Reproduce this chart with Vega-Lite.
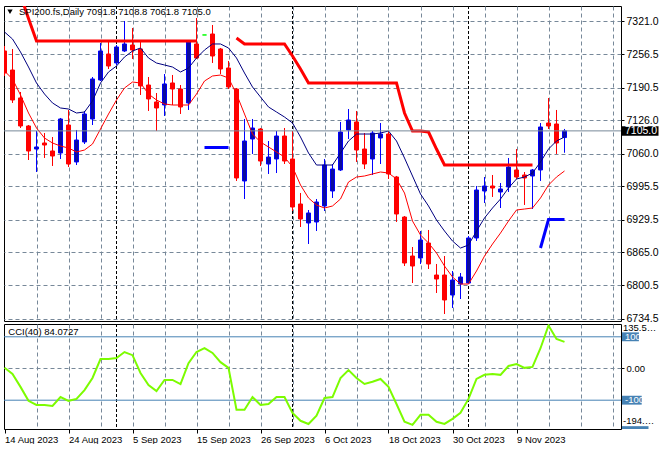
{
  "$schema": "https://vega.github.io/schema/vega-lite/v6.json",
  "padding": {"left": 3, "top": 5, "right": 0, "bottom": 0},
  "background": "white",
  "config": {"font": "Liberation Sans", "view": {"stroke": "black", "strokeWidth": 1}, "axis": {"labelFont": "Liberation Sans", "labelOverlap": false, "labelFlush": false, "labelBound": false}},
  "bounds": "flush",
  "spacing": 3,
  "resolve": {"scale": {"x": "independent", "y": "independent"}},
  "datasets": {
    "bars": [
      {"i":0,"d":"2023-08-14","o":7262.8,"h":7272.6,"l":7213.4,"c":7219.3,"u":7300.3,"lo":7223.2,"cci":2.5},
      {"i":1,"d":"2023-08-15","o":7225.2,"h":7266.7,"l":7160.1,"c":7166.0,"u":7286.4,"lo":7207.4,"cci":-17},
      {"i":2,"d":"2023-08-16","o":7170.0,"h":7181.8,"l":7110.7,"c":7114.7,"u":7260.8,"lo":7175.9,"cci":-58},
      {"i":3,"d":"2023-08-17","o":7114.7,"h":7116.6,"l":7047.5,"c":7065.3,"u":7231.1,"lo":7140.3,"cci":-102},
      {"i":4,"d":"2023-08-18","o":7069.2,"h":7104.8,"l":7023.8,"c":7073.2,"u":7199.5,"lo":7110.7,"cci":-115},
      {"i":5,"d":"2023-08-21","o":7081.1,"h":7100.8,"l":7051.5,"c":7077.1,"u":7177.8,"lo":7090.9,"cci":-115},
      {"i":6,"d":"2023-08-22","o":7065.3,"h":7092.9,"l":7035.7,"c":7055.4,"u":7160.1,"lo":7081.1,"cci":-118},
      {"i":7,"d":"2023-08-23","o":7061.3,"h":7130.5,"l":7049.5,"c":7128.5,"u":7150.2,"lo":7075.1,"cci":-90},
      {"i":8,"d":"2023-08-24","o":7116.6,"h":7146.3,"l":7033.7,"c":7039.6,"u":7148.2,"lo":7071.2,"cci":-102},
      {"i":9,"d":"2023-08-25","o":7043.6,"h":7106.8,"l":7037.6,"c":7087.0,"u":7140.3,"lo":7063.3,"cci":-96},
      {"i":10,"d":"2023-08-28","o":7083.1,"h":7144.3,"l":7079.1,"c":7138.4,"u":7142.3,"lo":7067.2,"cci":-68},
      {"i":11,"d":"2023-08-29","o":7128.5,"h":7211.4,"l":7116.6,"c":7207.5,"u":7164.0,"lo":7079.1,"cci":-30},
      {"i":12,"d":"2023-08-30","o":7205.5,"h":7278.6,"l":7203.5,"c":7262.8,"u":7199.5,"lo":7108.7,"cci":30},
      {"i":13,"d":"2023-08-31","o":7256.8,"h":7282.5,"l":7227.2,"c":7233.1,"u":7221.3,"lo":7138.3,"cci":30},
      {"i":14,"d":"2023-09-01","o":7239.1,"h":7274.6,"l":7235.1,"c":7270.7,"u":7233.1,"lo":7166.0,"cci":33},
      {"i":15,"d":"2023-09-04","o":7262.8,"h":7322.0,"l":7260.8,"c":7276.6,"u":7250.9,"lo":7189.7,"cci":52},
      {"i":16,"d":"2023-09-05","o":7274.6,"h":7308.2,"l":7247.0,"c":7264.7,"u":7262.7,"lo":7201.5,"cci":42},
      {"i":17,"d":"2023-09-06","o":7266.7,"h":7282.5,"l":7175.9,"c":7193.7,"u":7268.7,"lo":7199.5,"cci":-14},
      {"i":18,"d":"2023-09-07","o":7195.6,"h":7211.4,"l":7144.3,"c":7168.0,"u":7248.9,"lo":7177.8,"cci":-52},
      {"i":19,"d":"2023-09-08","o":7162.1,"h":7179.8,"l":7104.8,"c":7150.2,"u":7239.0,"lo":7166.0,"cci":-71},
      {"i":20,"d":"2023-09-11","o":7156.1,"h":7217.3,"l":7134.4,"c":7197.6,"u":7235.1,"lo":7158.1,"cci":-36},
      {"i":21,"d":"2023-09-12","o":7199.6,"h":7215.4,"l":7156.1,"c":7187.7,"u":7231.1,"lo":7156.1,"cci":-36},
      {"i":22,"d":"2023-09-13","o":7187.7,"h":7195.6,"l":7138.4,"c":7152.2,"u":7221.3,"lo":7156.1,"cci":-49},
      {"i":23,"d":"2023-09-14","o":7160.1,"h":7282.5,"l":7146.3,"c":7280.5,"u":7229.2,"lo":7156.1,"cci":17},
      {"i":24,"d":"2023-09-15","o":7276.6,"h":7327.9,"l":7247.0,"c":7248.9,"u":7248.9,"lo":7177.8,"cci":52},
      {"i":25,"d":"2023-09-17","o":7294.4,"h":7294.4,"l":7294.4,"c":7294.4,"u":7264.7,"lo":7203.5,"cci":64},
      {"i":26,"d":"2023-09-18","o":7296.3,"h":7314.1,"l":7239.1,"c":7252.9,"u":7276.6,"lo":7213.4,"cci":49},
      {"i":27,"d":"2023-09-19","o":7266.7,"h":7268.7,"l":7217.3,"c":7227.2,"u":7276.6,"lo":7215.3,"cci":20},
      {"i":28,"d":"2023-09-20","o":7229.2,"h":7243.0,"l":7187.7,"c":7191.7,"u":7268.7,"lo":7209.4,"cci":2},
      {"i":29,"d":"2023-09-21","o":7187.7,"h":7189.7,"l":7006.1,"c":7012.0,"u":7248.9,"lo":7177.8,"cci":-130},
      {"i":30,"d":"2023-09-22","o":7006.1,"h":7128.5,"l":6970.5,"c":7085.0,"u":7219.3,"lo":7138.3,"cci":-130},
      {"i":31,"d":"2023-09-25","o":7089.0,"h":7128.5,"l":7059.4,"c":7110.7,"u":7191.7,"lo":7098.8,"cci":-90},
      {"i":32,"d":"2023-09-26","o":7108.7,"h":7110.7,"l":7035.7,"c":7045.5,"u":7171.9,"lo":7083.0,"cci":-115},
      {"i":33,"d":"2023-09-27","o":7039.6,"h":7085.0,"l":7019.9,"c":7053.4,"u":7152.2,"lo":7073.2,"cci":-112},
      {"i":34,"d":"2023-09-28","o":7049.5,"h":7104.8,"l":7021.8,"c":7094.9,"u":7142.3,"lo":7063.3,"cci":-90},
      {"i":35,"d":"2023-09-29","o":7094.9,"h":7110.7,"l":7039.6,"c":7045.5,"u":7132.4,"lo":7053.4,"cci":-90},
      {"i":36,"d":"2023-10-02","o":7049.5,"h":7104.8,"l":6946.8,"c":6954.7,"u":7120.6,"lo":7033.7,"cci":-140},
      {"i":37,"d":"2023-10-03","o":6960.6,"h":6982.4,"l":6915.2,"c":6931.0,"u":7092.9,"lo":6998.1,"cci":-165},
      {"i":38,"d":"2023-10-04","o":6923.1,"h":6948.8,"l":6881.7,"c":6942.9,"u":7061.3,"lo":6972.5,"cci":-175},
      {"i":39,"d":"2023-10-05","o":6925.1,"h":6970.5,"l":6907.3,"c":6964.6,"u":7037.6,"lo":6958.6,"cci":-149},
      {"i":40,"d":"2023-10-06","o":6956.7,"h":7049.5,"l":6946.8,"c":7037.6,"u":7037.6,"lo":6952.7,"cci":-93},
      {"i":41,"d":"2023-10-09","o":6986.3,"h":7039.6,"l":6972.5,"c":7029.7,"u":7037.6,"lo":6956.7,"cci":-90},
      {"i":42,"d":"2023-10-10","o":7027.8,"h":7122.6,"l":7025.8,"c":7102.8,"u":7061.3,"lo":6970.5,"cci":-30},
      {"i":43,"d":"2023-10-11","o":7106.8,"h":7148.2,"l":7089.0,"c":7126.5,"u":7085.0,"lo":7004.1,"cci":-5},
      {"i":44,"d":"2023-10-12","o":7122.6,"h":7144.3,"l":7043.6,"c":7067.3,"u":7098.8,"lo":7013.9,"cci":-30},
      {"i":45,"d":"2023-10-13","o":7069.2,"h":7100.8,"l":7029.7,"c":7039.6,"u":7098.8,"lo":7015.9,"cci":-49},
      {"i":46,"d":"2023-10-16","o":7049.5,"h":7104.8,"l":7017.9,"c":7100.8,"u":7098.8,"lo":7019.9,"cci":-42},
      {"i":47,"d":"2023-10-17","o":7091.0,"h":7120.6,"l":7039.6,"c":7098.9,"u":7100.8,"lo":7023.8,"cci":-33},
      {"i":48,"d":"2023-10-18","o":7098.9,"h":7104.8,"l":7010.0,"c":7019.9,"u":7104.8,"lo":7021.8,"cci":-58},
      {"i":49,"d":"2023-10-19","o":7014.0,"h":7016.0,"l":6925.1,"c":6940.9,"u":7085.0,"lo":7010.0,"cci":-112},
      {"i":50,"d":"2023-10-20","o":6934.9,"h":6936.9,"l":6838.2,"c":6844.1,"u":7051.4,"lo":6982.3,"cci":-168},
      {"i":51,"d":"2023-10-23","o":6857.9,"h":6875.7,"l":6804.6,"c":6838.2,"u":7015.9,"lo":6927.0,"cci":-178},
      {"i":52,"d":"2023-10-24","o":6854.0,"h":6907.3,"l":6842.2,"c":6889.5,"u":6980.4,"lo":6899.4,"cci":-146},
      {"i":53,"d":"2023-10-25","o":6883.6,"h":6909.3,"l":6832.3,"c":6842.2,"u":6956.7,"lo":6883.6,"cci":-146},
      {"i":54,"d":"2023-10-26","o":6820.4,"h":6842.2,"l":6784.9,"c":6812.5,"u":6929.0,"lo":6863.9,"cci":-168},
      {"i":55,"d":"2023-10-27","o":6820.4,"h":6857.9,"l":6743.4,"c":6771.1,"u":6907.3,"lo":6838.2,"cci":-175},
      {"i":56,"d":"2023-10-30","o":6780.9,"h":6828.3,"l":6755.3,"c":6810.5,"u":6887.5,"lo":6816.5,"cci":-159},
      {"i":57,"d":"2023-10-31","o":6802.6,"h":6824.4,"l":6773.0,"c":6816.5,"u":6873.7,"lo":6802.6,"cci":-140},
      {"i":58,"d":"2023-11-01","o":6804.6,"h":6897.4,"l":6802.6,"c":6893.5,"u":6879.6,"lo":6802.6,"cci":-96},
      {"i":59,"d":"2023-11-02","o":6893.5,"h":6996.2,"l":6887.6,"c":6988.3,"u":6907.3,"lo":6828.3,"cci":-33},
      {"i":60,"d":"2023-11-03","o":6986.3,"h":7013.9,"l":6962.6,"c":6996.2,"u":6933.0,"lo":6857.9,"cci":-20},
      {"i":61,"d":"2023-11-06","o":6996.2,"h":7017.9,"l":6974.5,"c":6992.2,"u":6952.7,"lo":6881.6,"cci":-17},
      {"i":62,"d":"2023-11-07","o":6984.3,"h":7002.1,"l":6952.7,"c":6990.3,"u":6970.5,"lo":6903.3,"cci":-20},
      {"i":63,"d":"2023-11-08","o":6994.2,"h":7051.5,"l":6984.3,"c":7033.7,"u":6992.2,"lo":6927.0,"cci":8},
      {"i":64,"d":"2023-11-09","o":7027.8,"h":7069.2,"l":7010.0,"c":7013.9,"u":7010.0,"lo":6948.8,"cci":14},
      {"i":65,"d":"2023-11-10","o":7017.9,"h":7023.8,"l":6958.7,"c":7012.0,"u":7013.9,"lo":6950.7,"cci":2},
      {"i":66,"d":"2023-11-13","o":7015.9,"h":7029.7,"l":6950.8,"c":7027.8,"u":7021.8,"lo":6952.7,"cci":5},
      {"i":67,"d":"2023-11-14","o":7027.8,"h":7120.6,"l":7006.1,"c":7112.7,"u":7043.5,"lo":6972.5,"cci":64},
      {"i":68,"d":"2023-11-15","o":7120.6,"h":7169.9,"l":7108.7,"c":7114.7,"u":7069.2,"lo":6998.1,"cci":135.56},
      {"i":69,"d":"2023-11-16","o":7118.6,"h":7146.3,"l":7059.4,"c":7081.1,"u":7085.0,"lo":7013.9,"cci":93},
      {"i":70,"d":"2023-11-17","o":7091.8,"h":7108.8,"l":7061.8,"c":7105.0,"u":7092.9,"lo":7025.8,"cci":84.07}
    ],
    "months": [{"i":14,"m":"Sep"},{"i":36,"m":"Oct"},{"i":58,"m":"Nov"}],
    "res": [
      {"i":2,"v":7373.3,"seg":1},{"i":3,"v":7327.0,"seg":1},{"i":4,"v":7282.5,"seg":1},{"i":5,"v":7282.5,"seg":1},{"i":6,"v":7282.5,"seg":1},{"i":7,"v":7282.5,"seg":1},{"i":8,"v":7282.5,"seg":1},{"i":9,"v":7282.5,"seg":1},{"i":10,"v":7282.5,"seg":1},{"i":11,"v":7282.5,"seg":1},{"i":12,"v":7282.5,"seg":1},{"i":13,"v":7282.5,"seg":1},{"i":14,"v":7282.5,"seg":1},{"i":15,"v":7282.5,"seg":1},{"i":16,"v":7282.5,"seg":1},{"i":17,"v":7282.5,"seg":1},{"i":18,"v":7282.5,"seg":1},{"i":19,"v":7282.5,"seg":1},{"i":20,"v":7282.5,"seg":1},{"i":21,"v":7282.5,"seg":1},{"i":22,"v":7282.5,"seg":1},{"i":23,"v":7282.5,"seg":1},{"i":24,"v":7282.5,"seg":1},
      {"i":29,"v":7288.4,"seg":2},{"i":30,"v":7276.6,"seg":2},{"i":31,"v":7276.6,"seg":2},{"i":32,"v":7276.6,"seg":2},{"i":33,"v":7276.6,"seg":2},{"i":34,"v":7276.6,"seg":2},{"i":35,"v":7276.6,"seg":2},{"i":36,"v":7252.9,"seg":2},{"i":37,"v":7227.2,"seg":2},{"i":38,"v":7199.6,"seg":2},{"i":39,"v":7199.6,"seg":2},{"i":40,"v":7199.6,"seg":2},{"i":41,"v":7199.6,"seg":2},{"i":42,"v":7199.6,"seg":2},{"i":43,"v":7199.6,"seg":2},{"i":44,"v":7199.6,"seg":2},{"i":45,"v":7199.6,"seg":2},{"i":46,"v":7199.6,"seg":2},{"i":47,"v":7199.6,"seg":2},{"i":48,"v":7199.6,"seg":2},{"i":49,"v":7199.6,"seg":2},{"i":50,"v":7140.3,"seg":2},{"i":51,"v":7104.8,"seg":2},{"i":52,"v":7104.8,"seg":2},{"i":53,"v":7102.8,"seg":2},{"i":54,"v":7069.2,"seg":2},{"i":55,"v":7037.6,"seg":2},{"i":56,"v":7037.6,"seg":2},{"i":57,"v":7037.6,"seg":2},{"i":58,"v":7037.6,"seg":2},{"i":59,"v":7037.6,"seg":2},{"i":60,"v":7037.6,"seg":2},{"i":61,"v":7037.6,"seg":2},{"i":62,"v":7037.6,"seg":2},{"i":63,"v":7037.6,"seg":2},{"i":64,"v":7037.6,"seg":2},{"i":65,"v":7037.6,"seg":2},{"i":66,"v":7037.6,"seg":2}
    ],
    "sup": [
      {"i":25,"v":7072.2,"seg":1},{"i":26,"v":7072.2,"seg":1},{"i":27,"v":7072.2,"seg":1},{"i":28,"v":7072.2,"seg":1},
      {"i":67,"v":6873.7,"seg":2},{"i":68,"v":6930.0,"seg":2},{"i":69,"v":6930.0,"seg":2},{"i":70,"v":6930.0,"seg":2}
    ]
  },
  "vconcat": [
    {
      "width": 617,
      "height": 315,
      "resolve": {"axis": {"x": "independent", "y": "independent"}},
      "layer": [
        {
          "data": {"name": "bars"},
          "mark": {"type": "rule", "strokeWidth": 1, "clip": true, "opacity": 0},
          "encoding": {
            "x": {"field": "i", "type": "quantitative",
              "scale": {"domain": [-0.0625, 77.0625], "nice": false, "zero": false, "padding": 0},
              "axis": {"values": [0,4,8,12,16,20,24,28,32,36,40,44,48,52,56,60,64,68,72,76], "title": null, "labels": false, "ticks": false, "domain": false,
                "grid": true, "gridColor": "#778899", "gridDash": [4, 3], "gridWidth": 1,
                "gridOpacity": {"condition": {"test": "datum.value == 0", "value": 0}, "value": 1}}},
            "y": {"field": "l", "type": "quantitative",
              "scale": {"domain": [6729.6, 7351.6], "nice": false, "zero": false, "padding": 0},
              "axis": {"orient": "right", "values": [6734.5, 6800.5, 6865.0, 6929.5, 6995.5, 7060.0, 7126.0, 7190.5, 7256.5, 7321.0], "format": ".1f", "title": null, "domain": false,
                "grid": true, "gridColor": "#778899", "gridDash": [4, 3], "gridWidth": 1,
                "ticks": true, "tickSize": 3, "tickColor": "black", "labelFontSize": 10.5, "labelColor": "black", "labelPadding": 2,
                "labelOverlap": false, "labelFlush": false, "labelBound": false}},
            "y2": {"field": "h"}
          }
        },
        {
          "data": {"name": "months"},
          "mark": {"type": "rule", "color": "black", "strokeDash": [3, 2], "strokeWidth": 1},
          "encoding": {"x": {"field": "i", "type": "quantitative", "axis": null}}
        },
        {
          "data": {"name": "bars"},
          "mark": {"type": "rule", "strokeWidth": 1, "clip": true},
          "encoding": {
            "x": {"field": "i", "type": "quantitative", "axis": null},
            "y": {"field": "l", "type": "quantitative", "axis": null},
            "y2": {"field": "h"},
            "color": {"condition": [{"test": "datum.o == datum.c", "value": "#00ff00"}, {"test": "datum.c > datum.o", "value": "#0000ff"}], "value": "#ff0000"}
          }
        },
        {
          "data": {"name": "bars"},
          "mark": {"type": "bar", "size": 4, "strokeWidth": 1, "clip": true},
          "encoding": {
            "x": {"field": "i", "type": "quantitative", "axis": null},
            "y": {"field": "o", "type": "quantitative", "axis": null},
            "y2": {"field": "c"},
            "fill": {"condition": [{"test": "datum.o == datum.c", "value": "#00ff00"}, {"test": "datum.c > datum.o", "value": "#0c0c9c"}], "value": "#ff0000"},
            "stroke": {"condition": [{"test": "datum.o == datum.c", "value": "#00ff00"}, {"test": "datum.c > datum.o", "value": "#0000ff"}], "value": "#ff0000"}
          }
        },
        {
          "data": {"name": "bars"},
          "mark": {"type": "line", "color": "#000080", "strokeWidth": 1, "clip": true},
          "encoding": {"x": {"field": "i", "type": "quantitative", "axis": null}, "y": {"field": "u", "type": "quantitative", "axis": null}}
        },
        {
          "data": {"name": "bars"},
          "mark": {"type": "line", "color": "#ff0000", "strokeWidth": 1, "clip": true},
          "encoding": {"x": {"field": "i", "type": "quantitative", "axis": null}, "y": {"field": "lo", "type": "quantitative", "axis": null}}
        },
        {
          "data": {"name": "res"},
          "mark": {"type": "line", "color": "#ff0000", "strokeWidth": 3, "clip": true},
          "encoding": {"x": {"field": "i", "type": "quantitative", "axis": null}, "y": {"field": "v", "type": "quantitative", "axis": null}, "detail": {"field": "seg", "type": "nominal"}}
        },
        {
          "data": {"name": "sup"},
          "mark": {"type": "line", "color": "#0000ff", "strokeWidth": 3, "clip": true},
          "encoding": {"x": {"field": "i", "type": "quantitative", "axis": null}, "y": {"field": "v", "type": "quantitative", "axis": null}, "detail": {"field": "seg", "type": "nominal"}}
        },
        {
          "data": {"values": [{"bid": 7105.0}]},
          "mark": {"type": "rule", "color": "#778899", "strokeWidth": 1},
          "encoding": {"y": {"field": "bid", "type": "quantitative", "axis": null}}
        },
        {
          "data": {"values": [{"s": "menu"}]},
          "mark": {"type": "point", "shape": "triangle-down", "filled": true, "color": "black", "size": 28, "opacity": 1},
          "encoding": {"x": {"datum": 0.6875, "axis": null}, "y": {"datum": 7340.2, "axis": null}}
        },
        {
          "data": {"values": [{"t": "SPI200.fs,Daily  7091.8 7108.8 7061.8 7105.0"}]},
          "mark": {"type": "text", "align": "left", "baseline": "middle", "fontSize": 9.5, "color": "black"},
          "encoding": {"x": {"datum": 1.8125, "axis": null}, "y": {"datum": 7340.7, "axis": null}, "text": {"field": "t"}}
        },
        {
          "data": {"values": [{"t": "7105.0"}]},
          "mark": {"type": "rect", "color": "black"},
          "encoding": {"x": {"datum": 77.0625, "axis": null}, "x2": {"datum": 81.75}, "y": {"datum": 7095.6, "axis": null}, "y2": {"datum": 7114.4}}
        },
        {
          "data": {"values": [{"t": "7105.0"}]},
          "mark": {"type": "text", "align": "left", "baseline": "middle", "fontSize": 10.5, "color": "white", "dx": 4},
          "encoding": {"x": {"datum": 77.0625, "axis": null}, "y": {"datum": 7105.0, "axis": null}, "text": {"field": "t"}}
        }
      ]
    },
    {
      "width": 617,
      "height": 105,
      "resolve": {"axis": {"x": "independent", "y": "independent"}},
      "layer": [
        {
          "data": {"name": "bars"},
          "mark": {"type": "line", "color": "#7cfc00", "strokeWidth": 2, "clip": true, "opacity": 0},
          "encoding": {
            "x": {"field": "i", "type": "quantitative",
              "scale": {"domain": [-0.0625, 77.0625], "nice": false, "zero": false, "padding": 0},
              "axis": {"values": [0,4,8,12,16,20,24,28,32,36,40,44,48,52,56,60,64,68,72,76], "title": null, "domain": false,
                "grid": true, "gridColor": "#778899", "gridDash": [4, 3], "gridWidth": 1,
                "gridOpacity": {"condition": {"test": "datum.value == 0", "value": 0}, "value": 1},
                "ticks": true, "tickSize": 4, "tickColor": "black",
                "tickOpacity": {"condition": {"test": "datum.value % 8 == 0 && datum.value <= 64", "value": 1}, "value": 0},
                "labelExpr": "datum.value % 8 == 0 && datum.value <= 64 ? ['14 Aug 2023','24 Aug 2023','5 Sep 2023','15 Sep 2023','26 Sep 2023','6 Oct 2023','18 Oct 2023','30 Oct 2023','9 Nov 2023'][datum.value / 8] : ''",
                "labelAlign": "left", "labelBaseline": "top", "labelFontSize": 9.5, "labelColor": "black", "labelPadding": 1,
                "labelOverlap": false, "labelFlush": false, "labelBound": false}},
            "y": {"field": "cci", "type": "quantitative",
              "scale": {"domain": [-190.9, 140.4], "nice": false, "zero": false, "padding": 0},
              "axis": {"orient": "right", "values": [0], "format": ".2f", "title": null, "domain": false,
                "grid": true, "gridColor": "#778899", "gridDash": [4, 3], "gridWidth": 1,
                "ticks": true, "tickSize": 3, "tickColor": "black", "labelFontSize": 9.5, "labelColor": "black", "labelPadding": 2,
                "labelOverlap": false, "labelFlush": false, "labelBound": false}}
          }
        },
        {
          "data": {"name": "months"},
          "mark": {"type": "rule", "color": "black", "strokeDash": [3, 2], "strokeWidth": 1},
          "encoding": {"x": {"field": "i", "type": "quantitative", "axis": null}}
        },
        {
          "data": {"values": [{"lev": 100}, {"lev": -100}]},
          "mark": {"type": "rule", "color": "#4682b4", "strokeWidth": 1},
          "encoding": {"y": {"field": "lev", "type": "quantitative", "axis": null}}
        },
        {
          "data": {"name": "bars"},
          "mark": {"type": "line", "color": "#7cfc00", "strokeWidth": 2, "clip": true},
          "encoding": {"x": {"field": "i", "type": "quantitative", "axis": null}, "y": {"field": "cci", "type": "quantitative", "axis": null}}
        },
        {
          "data": {"values": [{"t": "CCI(40) 84.0727"}]},
          "mark": {"type": "text", "align": "left", "baseline": "middle", "fontSize": 9.5, "color": "black"},
          "encoding": {"x": {"datum": 0.475, "axis": null}, "y": {"datum": 113.6, "axis": null}, "text": {"field": "t"}}
        },
        {
          "data": {"values": [{"t": "135.5619"}]},
          "mark": {"type": "text", "align": "left", "baseline": "middle", "fontSize": 9.5, "color": "black", "dx": 2, "dy": 2, "limit": 34, "ellipsis": ""},
          "encoding": {"x": {"datum": 77.0625, "axis": null}, "y": {"datum": 135.56, "axis": null}, "text": {"field": "t"}}
        },
        {
          "data": {"values": [{"t": "100"}]},
          "mark": {"type": "rect", "color": "#4682b4"},
          "encoding": {"x": {"datum": 77.1875, "axis": null}, "x2": {"datum": 79.3}, "y": {"datum": 86, "axis": null}, "y2": {"datum": 114}}
        },
        {
          "data": {"values": [{"t": "100"}]},
          "mark": {"type": "text", "align": "left", "baseline": "middle", "fontSize": 9.5, "color": "white", "dx": 4},
          "encoding": {"x": {"datum": 77.0625, "axis": null}, "y": {"datum": 100, "axis": null}, "text": {"field": "t"}}
        },
        {
          "data": {"values": [{"t": "-100"}]},
          "mark": {"type": "rect", "color": "#4682b4"},
          "encoding": {"x": {"datum": 77.1875, "axis": null}, "x2": {"datum": 79.65}, "y": {"datum": -114, "axis": null}, "y2": {"datum": -86}}
        },
        {
          "data": {"values": [{"t": "-100"}]},
          "mark": {"type": "text", "align": "left", "baseline": "middle", "fontSize": 9.5, "color": "white", "dx": 4},
          "encoding": {"x": {"datum": 77.0625, "axis": null}, "y": {"datum": -100, "axis": null}, "text": {"field": "t"}}
        },
        {
          "data": {"values": [{"t": "-200"}]},
          "mark": {"type": "rect", "color": "#4682b4"},
          "encoding": {"x": {"datum": 77.1875, "axis": null}, "x2": {"datum": 80.5}, "y": {"datum": -190.9, "axis": null}, "y2": {"datum": -182}}
        },
        {
          "data": {"values": [{"t": "-194.141"}]},
          "mark": {"type": "text", "align": "left", "baseline": "middle", "fontSize": 9.5, "color": "black", "dx": 2, "dy": -9, "limit": 34, "ellipsis": ""},
          "encoding": {"x": {"datum": 77.0625, "axis": null}, "y": {"datum": -194.141, "axis": null}, "text": {"field": "t"}}
        }
      ]
    }
  ]
}
